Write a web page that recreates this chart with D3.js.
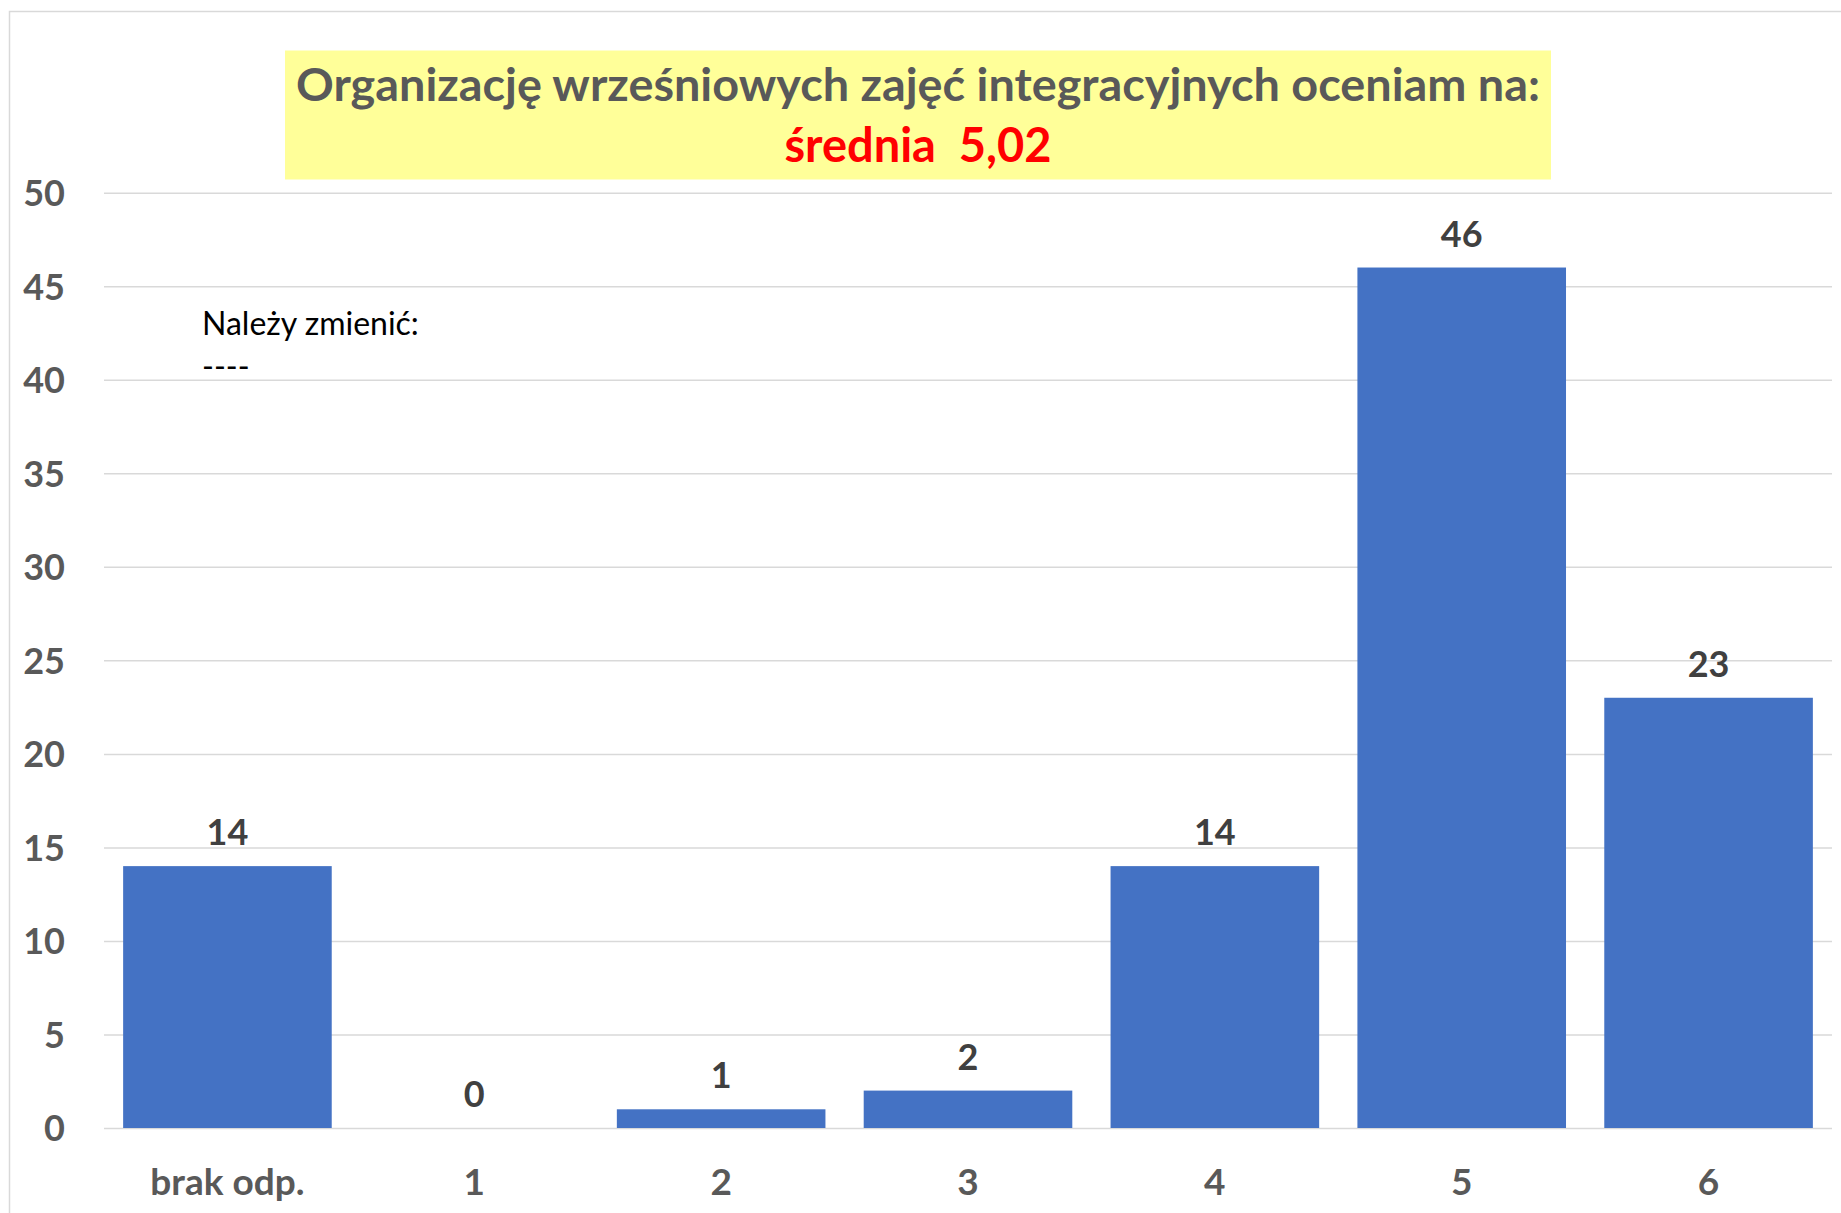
<!DOCTYPE html>
<html><head><meta charset="utf-8">
<script src="https://cdn.jsdelivr.net/npm/d3@7"></script>
<style>
html,body{margin:0;padding:0;background:#fff;}
svg{display:block;}
</style></head>
<body>
<script>
const categories = ["brak odp.", "1", "2", "3", "4", "5", "6"];
const values = [14, 0, 1, 2, 14, 46, 23];
const yTicks = [0, 5, 10, 15, 20, 25, 30, 35, 40, 45, 50];
const titleLine1 = "Organizację wrześniowych zajęć integracyjnych oceniam na:";
const titleLine2 = "średnia  5,02";
const noteLines = ["Należy zmienić:", "----"];

const W = 1841, H = 1213;
const plot = {left: 104, right: 1832, top: 192.7, bottom: 1128};
const font = "Lato, 'Noto Sans', sans-serif";

const svg = d3.select("body").append("svg").attr("width", W).attr("height", H);

// outer chart border
svg.append("rect").attr("x", 9.5).attr("y", 11.5).attr("width", W + 20).attr("height", H + 20)
  .attr("fill", "#fff").attr("stroke", "#D9D9D9").attr("stroke-width", 1.5);

const x = d3.scaleBand().domain(categories).range([plot.left, plot.right]).paddingInner(0.155).paddingOuter(0.0775);
const y = d3.scaleLinear().domain([0, 50]).range([plot.bottom, plot.top]);

// y axis + gridlines
const yAxis = svg.append("g").attr("transform", `translate(${plot.left},0)`)
  .call(d3.axisLeft(y).tickValues(yTicks).tickSize(-(plot.right - plot.left)).tickPadding(39).tickFormat(d3.format("d")));
yAxis.select(".domain").remove();
yAxis.selectAll(".tick line").attr("stroke", "#D9D9D9").attr("stroke-width", 1.5);
yAxis.selectAll(".tick text").attr("fill", "#595959").attr("font-family", font)
  .attr("font-weight", "bold").attr("font-size", 36).attr("dy", "0.36em");

// bars
svg.append("g").selectAll("rect").data(categories).join("rect")
  .attr("x", d => x(d)).attr("width", x.bandwidth())
  .attr("y", (d, i) => y(values[i])).attr("height", (d, i) => y(0) - y(values[i]))
  .attr("fill", "#4472C4");

// value labels
svg.append("g").selectAll("text").data(categories).join("text")
  .attr("x", d => x(d) + x.bandwidth() / 2)
  .attr("y", (d, i) => y(values[i]) - 21)
  .attr("text-anchor", "middle").attr("fill", "#404040")
  .attr("font-family", font).attr("font-weight", "bold").attr("font-size", 36)
  .text((d, i) => values[i]);

// x axis
const xAxis = svg.append("g").attr("transform", `translate(0,${plot.bottom})`)
  .call(d3.axisBottom(x).tickSize(0));
xAxis.select(".domain").remove();
xAxis.selectAll(".tick text").attr("y", 67).attr("dy", 0).attr("fill", "#595959")
  .attr("font-family", font).attr("font-weight", "bold").attr("font-size", 37);

// title box
svg.append("rect").attr("x", 285).attr("y", 50.5).attr("width", 1266).attr("height", 129)
  .attr("fill", "#FFFF99");
svg.append("text").attr("x", 918).attr("y", 101).attr("text-anchor", "middle")
  .attr("fill", "#595959").attr("font-family", font).attr("font-weight", "bold").attr("font-size", 46)
  .attr("textLength", 1244).attr("lengthAdjust", "spacingAndGlyphs")
  .text(titleLine1);
svg.append("text").attr("x", 918).attr("y", 162).attr("text-anchor", "middle")
  .attr("fill", "#FF0000").attr("font-family", font).attr("font-weight", "bold").attr("font-size", 47)
  .attr("xml:space", "preserve").style("white-space", "pre")
  .text(titleLine2);

// note
svg.append("g").selectAll("text").data(noteLines).join("text")
  .attr("x", 202).attr("y", (d, i) => 335 + i * 43)
  .attr("fill", "#000").attr("font-family", font).attr("font-size", 32)
  .text(d => d);
</script>
</body></html>
